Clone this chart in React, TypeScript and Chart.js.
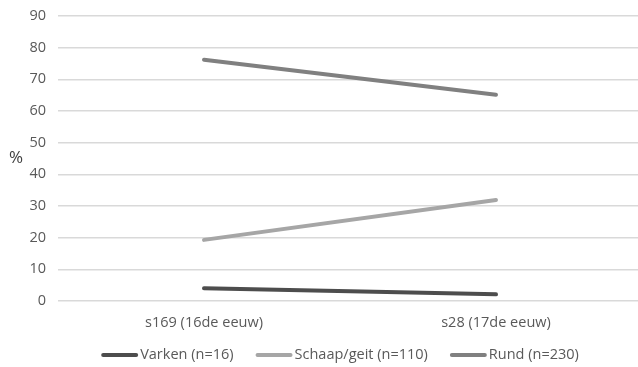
import React, { useEffect, useRef } from "react";
import { Chart, registerables } from "chart.js";

Chart.register(...registerables);

const categories = ["s169 (16de eeuw)", "s28 (17de eeuw)"];
const seriesNames = ["Varken (n=16)", "Schaap/geit (n=110)", "Rund (n=230)"];
const varken = [4.0, 2.1];
const schaap = [19.3, 31.9];
const rund = [76.2, 65.1];
const seriesColors = ["#4d4d4d", "#a6a6a6", "#808080"];
const yTitle = "%";
const FONT = "'Open Sans', sans-serif";
const TEXT = "#595959";
const FS = 14.5;

const customLegend = {
  id: "customLegend",
  afterDraw(chart: any) {
    const ctx = chart.ctx;
    ctx.save();
    ctx.font = `${FS}px ${FONT}`;
    ctx.textBaseline = "middle";
    ctx.textAlign = "left";
    const boxW = 37;
    const gap = 2;
    const spacing = 22;
    const items = chart.data.datasets.map((d: any) => ({
      label: d.label,
      color: d.borderColor,
      w: ctx.measureText(d.label).width,
    }));
    const total = items.reduce((s: number, it: any) => s + boxW + gap + it.w, 0) + spacing * (items.length - 1);
    const center = (chart.chartArea.left + chart.chartArea.right) / 2 - 10;
    let x = center - total / 2;
    const y = 355;
    for (const it of items) {
      ctx.strokeStyle = it.color;
      ctx.lineWidth = 4;
      ctx.lineCap = "round";
      ctx.beginPath();
      ctx.moveTo(x + 2, y);
      ctx.lineTo(x + boxW - 2, y);
      ctx.stroke();
      ctx.fillStyle = TEXT;
      ctx.fillText(it.label, x + boxW + gap, y);
      x += boxW + gap + it.w + spacing;
    }
    ctx.font = `17px ${FONT}`;
    ctx.fillStyle = "#404040";
    ctx.textAlign = "center";
    ctx.fillText(yTitle, 16, 158);
    ctx.restore();
  },
};

export default function App() {
  const ref = useRef<HTMLCanvasElement>(null);
  useEffect(() => {
    if (!ref.current) return;
    const data = [varken, schaap, rund];
    const chart = new Chart(ref.current, {
      type: "line",
      data: {
        labels: categories,
        datasets: seriesNames.map((name, i) => ({
          label: name,
          data: data[i],
          borderColor: seriesColors[i],
          backgroundColor: seriesColors[i],
          borderWidth: 4,
          borderCapStyle: "round" as const,
          pointRadius: 0,
          tension: 0,
        })),
      },
      options: {
        animation: false,
        responsive: false,
        maintainAspectRatio: false,
        layout: { padding: { top: 0, bottom: 0, left: 0, right: 0 } },
        plugins: {
          legend: { display: false },
          tooltip: { enabled: false },
          title: { display: false },
        },
        scales: {
          x: {
            offset: true,
            grid: { display: false, drawTicks: false },
            border: { display: false },
            ticks: { color: TEXT, font: { family: FONT, size: FS }, padding: 13, maxRotation: 0 },
            afterFit(scale: any) {
              scale.height = 66;
            },
          },
          y: {
            min: 0,
            max: 90,
            grid: { color: "#d9d9d9", lineWidth: 1.5, drawTicks: false },
            border: { display: false },
            ticks: { stepSize: 10, color: TEXT, font: { family: FONT, size: FS, lineHeight: 0.55 }, padding: 12 },
            afterFit(scale: any) {
              scale.width = 58;
            },
          },
        },
      },
      plugins: [customLegend],
    });
    return () => chart.destroy();
  }, []);
  return (
    <div style={{ position: "absolute", left: 0, top: 0, width: 638, height: 367, overflow: "hidden", background: "#fff" }}>
      <canvas ref={ref} width={642} height={367} style={{ width: 642, height: 367, display: "block" }} />
    </div>
  );
}
